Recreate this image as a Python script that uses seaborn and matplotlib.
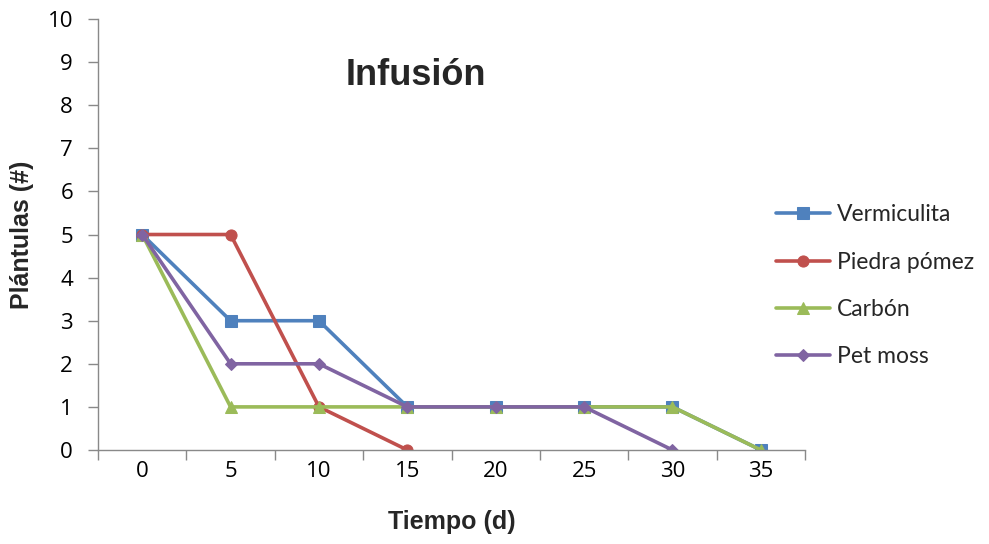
import numpy as np
import pandas as pd
import matplotlib
matplotlib.use("Agg")
import matplotlib.pyplot as plt
import seaborn as sns

# Days since infusion (category labels on the x axis)
tiempo = ["0", "5", "10", "15", "20", "25", "30", "35"]

# Seedling counts per substrate
vermiculita = [5, 3, 3, 1, 1, 1, 1, 0]
piedra_pomez = [5, 5, 1, 0]
carbon = [5, 1, 1, 1, 1, 1, 1, 0]
pet_moss = [5, 2, 2, 1, 1, 1, 0]

series = [
    ("Vermiculita", vermiculita, "#4F81BD", "s", 8),
    ("Piedra pómez", piedra_pomez, "#C0504D", "o", 8),
    ("Carbón", carbon, "#9BBB59", "^", 9),
    ("Pet moss", pet_moss, "#8064A2", "D", 6),
]

sns.set_style("white")
plt.rcParams["font.family"] = ["Open Sans", "DejaVu Sans"]

fig = plt.figure(figsize=(9.89, 5.44), dpi=100)
ax = fig.add_axes([0.0991, 0.1728, 0.7149, 0.7922])

for name, vals, color, marker, ms in series:
    df = pd.DataFrame({"pos": np.arange(len(vals)), "n": vals})
    sns.lineplot(data=df, x="pos", y="n", ax=ax, color=color, linewidth=2.6,
                 marker=marker, markersize=ms, markeredgecolor=color,
                 label=name, sort=False)

ax.set_xlim(-0.5, len(tiempo) - 0.5)
ax.set_ylim(0, 10)
ax.set_yticks(range(0, 11))
ax.set_xticks(np.arange(len(tiempo)))
ax.set_xticklabels(tiempo)
# tick marks on the category boundaries
ax.set_xticks(np.arange(-0.5, len(tiempo)), minor=True)
ax.tick_params(bottom=True, left=True, which="both")
ax.tick_params(axis="x", which="major", length=0, labelsize=16, pad=8, colors="#000000")
ax.tick_params(axis="x", which="minor", length=7, width=1, color="#898989", direction="out")
ax.tick_params(axis="y", which="major", length=7, width=1, color="#898989",
               direction="out", labelsize=16, pad=11)
ax.tick_params(axis="y", which="minor", left=False)
for lbl in ax.get_xticklabels() + ax.get_yticklabels():
    lbl.set_color("#000000")

for side in ["top", "right"]:
    ax.spines[side].set_visible(False)
for side in ["left", "bottom"]:
    ax.spines[side].set_color("#898989")
    ax.spines[side].set_linewidth(1)

ax.set_xlabel("Tiempo (d)", fontsize=18, fontweight="bold", labelpad=20,
              family=["Liberation Sans", "DejaVu Sans"])
ax.set_ylabel("Plántulas (#)", fontsize=18, fontweight="bold", labelpad=10,
              family=["Liberation Sans", "DejaVu Sans"])

ax.text(3.1, 8.7, "Infusión", fontsize=26, fontweight="bold", ha="center", va="center",
        family=["Liberation Sans", "DejaVu Sans"])

ax.legend(loc="center left", bbox_to_anchor=(0.93, 0.381), frameon=False,
          prop={"family": ["Lato", "DejaVu Sans"], "size": 16.5},
          labelspacing=1.15, handlelength=2.35, handletextpad=0.3)

fig.savefig("out.png", dpi=100)
